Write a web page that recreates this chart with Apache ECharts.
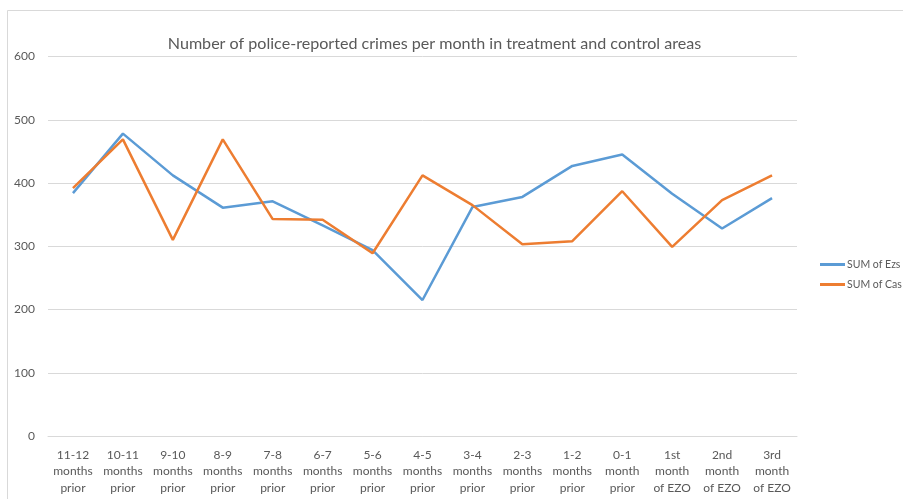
<!DOCTYPE html>
<html>
<head>
<meta charset="utf-8">
<script src="https://cdn.jsdelivr.net/npm/echarts@6/dist/echarts.min.js"></script>
<style>html,body{margin:0;padding:0;background:#fff;}#c{width:903px;height:499px;}</style>
</head>
<body>
<div id="c"></div>
<script>
const categories = [
  "11-12\nmonths\nprior", "10-11\nmonths\nprior", "9-10\nmonths\nprior", "8-9\nmonths\nprior",
  "7-8\nmonths\nprior", "6-7\nmonths\nprior", "5-6\nmonths\nprior", "4-5\nmonths\nprior",
  "3-4\nmonths\nprior", "2-3\nmonths\nprior", "1-2\nmonths\nprior", "0-1\nmonth\nprior",
  "1st\nmonth\nof EZO", "2nd\nmonth\nof EZO", "3rd\nmonth\nof EZO"
];
const ezs = [384, 478, 412, 361, 371, 333, 294, 215, 362, 378, 427, 445, 383, 328, 376];
const cas = [392, 469, 310, 469, 343, 342, 289, 412, 365, 303, 308, 387, 299, 373, 412];
const seriesNames = ["SUM of Ezs", "SUM of Cas"];
const titleText = "Number of police-reported crimes per month in treatment and control areas";

const FONT = "Lato";
const chart = echarts.init(document.getElementById('c'), null, {renderer: 'canvas'});
chart.setOption({
  animation: false,
  backgroundColor: '#fff',
  graphic: [{
    type: 'rect', shape: {x: 7.5, y: 10.5, width: 1000, height: 1000},
    style: {fill: 'none', stroke: '#d9d9d9', lineWidth: 1}, silent: true
  }],
  title: {
    text: titleText, left: 429.5, textAlign: 'center', top: 31,
    textStyle: {fontFamily: FONT, fontSize: 16.1, fontWeight: 'normal', color: '#595959'}
  },
  legend: {
    orient: 'vertical', left: 815, top: 254, itemGap: 9, itemWidth: 25, itemHeight: 3,
    icon: 'rect',
    textStyle: {fontFamily: FONT, fontSize: 10.5, color: '#595959', padding: [0, 0, 0, -3]},
    data: seriesNames
  },
  grid: {left: 48, right: 106, top: 56.5, bottom: 63, containLabel: false},
  xAxis: {
    type: 'category', data: categories, boundaryGap: true,
    axisLine: {show: true, lineStyle: {color: '#d9d9d9', width: 1}},
    axisTick: {show: false},
    axisLabel: {interval: 0, fontFamily: FONT, fontSize: 12, color: '#595959', lineHeight: 16.5, margin: 10.5, align: 'center'}
  },
  yAxis: {
    type: 'value', min: 0, max: 600, interval: 100,
    axisLine: {show: false}, axisTick: {show: false},
    splitLine: {lineStyle: {color: '#d9d9d9', width: 1}},
    axisLabel: {fontFamily: FONT, fontSize: 12, color: '#595959', margin: 13}
  },
  series: [
    {name: seriesNames[0], type: 'line', data: ezs, symbol: 'none', lineStyle: {color: '#5b9bd5', width: 2.5}, itemStyle: {color: '#5b9bd5'}},
    {name: seriesNames[1], type: 'line', data: cas, symbol: 'none', lineStyle: {color: '#ed7d31', width: 2.5}, itemStyle: {color: '#ed7d31'}}
  ]
});
</script>
</body>
</html>
